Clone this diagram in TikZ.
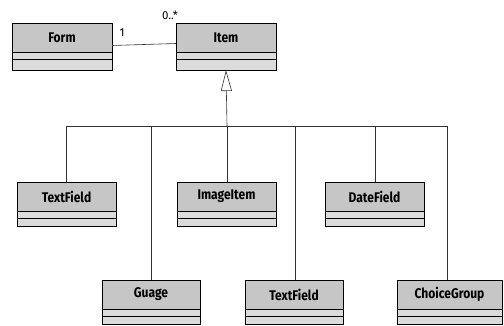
\documentclass[tikz,border=0pt]{standalone}
\usepackage{fontspec}
\setmainfont{Fira Sans}
\newfontfamily\clsfont{Fira Sans}[FakeStretch=0.86]
\usetikzlibrary{arrows.meta}
\tikzset{
  title/.style={draw=black, line width=0.9pt, fill=gray!45, minimum height=29pt, inner sep=0pt, outer sep=0pt, font=\clsfont\fontsize{14}{15}\selectfont\bfseries, text=black, anchor=north west},
  compA/.style={draw=black, line width=0.9pt, fill=gray!28, minimum height=7pt, inner sep=0pt, outer sep=0pt, anchor=north},
  compB/.style={draw=black, line width=0.9pt, fill=gray!28, minimum height=9pt, inner sep=0pt, outer sep=0pt, anchor=north},
  link/.style={draw=black!80, line width=0.6pt},
  mult/.style={font=\fontsize{11.5}{12}\selectfont, inner sep=0pt},
}
\newcommand{\umlcls}[6]{% name, x, y, width, text, last height
  \node[title, minimum width=#4pt] (#1) at (#2,#3) {#5};
  \node[compA, minimum width=#4pt] (#1a) at (#1.south) {};
  \node[compB, minimum width=#4pt, minimum height=#6pt] (#1b) at (#1a.south) {};
}
\begin{document}
\begin{tikzpicture}[x=1pt,y=-1pt]
\useasboundingbox (0,0) rectangle (504,326);
\umlcls{form}{12}{23}{100}{Form}{11}
\umlcls{item}{176}{23}{100}{Item}{11}
\umlcls{tfa}{17}{182}{99}{TextField}{8}
\umlcls{img}{177}{182}{99}{ImageItem}{8}
\umlcls{date}{325}{182}{99}{DateField}{8}
\umlcls{guage}{102}{280}{98}{Guage}{8}
\umlcls{tfb}{245}{280}{98}{TextField}{8}
\umlcls{choice}{397}{280}{105}{ChoiceGroup}{8}

\coordinate (busL) at (66,126);
\coordinate (busR) at (447,126);
\coordinate (busM) at (227,126);

% association
\draw[link] ([yshift=-8pt]form.east) -- ([yshift=-6pt]item.west);
\node[mult] (m1) at (122,33) {1};
\node[mult] (m2) at (170,15) {0..*};

% generalization
\draw[link] (busL) -- (busR);
\draw[link, -{Triangle[open, length=21pt, width=11pt]}] (busM) -- (itemb.south);
\draw[link] (busL) -- (busL |- tfa.north);
\draw[link] (151,126) -- (151 ,0 |- guage.north);
\draw[link] (busM) -- (busM |- img.north);
\draw[link] (295,126) -- (295,0 |- tfb.north);
\draw[link] (375,126) -- (375,0 |- date.north);
\draw[link] (busR) -- (busR |- choice.north);
\end{tikzpicture}
\end{document}
